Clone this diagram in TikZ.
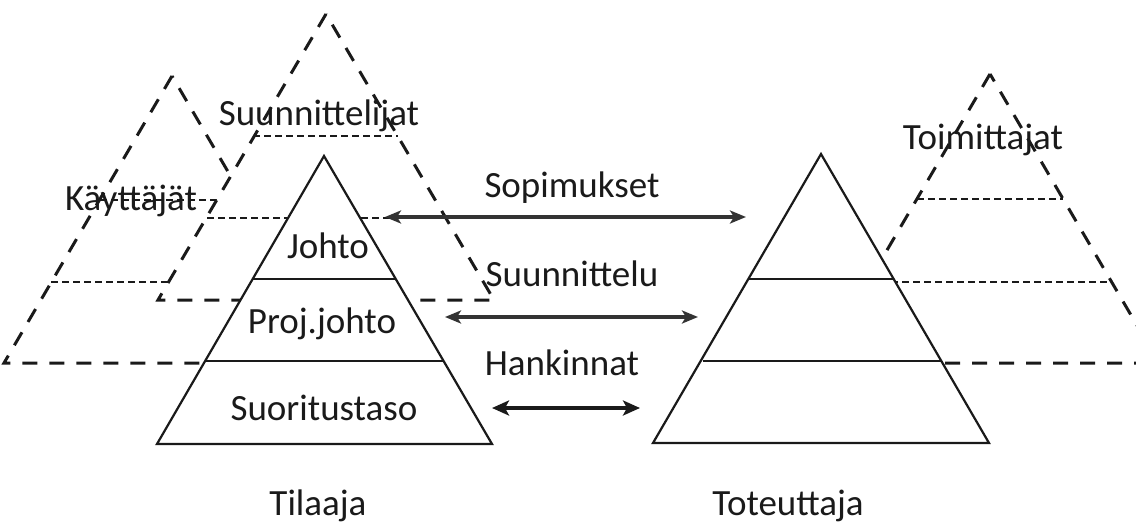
\documentclass[tikz,border=0pt]{standalone}
\usepackage{fontspec}
\setmainfont{Carlito}
\usetikzlibrary{arrows.meta}
\definecolor{ink}{HTML}{1A1A1A}
\definecolor{arrowc}{HTML}{333333}
\begin{document}
\begin{tikzpicture}[x=1pt,y=-1pt,
  solidtri/.style={draw=ink, line width=2.2pt, fill=white, line join=miter},
  levelline/.style={draw=ink, line width=1.5pt},
  dashtri/.style={draw=ink, line width=3pt, dash pattern=on 15pt off 12pt},
  dashtrifill/.style={dashtri, fill=white},
  thindash/.style={draw=ink, line width=1.5pt, dash pattern=on 7pt off 4pt},
  lbl/.style={font=\fontsize{37}{40}\selectfont, text=ink, inner sep=0pt, anchor=base},
  flow/.style={draw=arrowc, line width=3.2pt, {Stealth[length=16pt,width=13pt,inset=4pt]}-{Stealth[length=16pt,width=13pt,inset=4pt]}},
  flowbold/.style={draw=ink, line width=4.2pt, {Stealth[length=17pt,width=15pt,inset=4pt]}-{Stealth[length=17pt,width=15pt,inset=4pt]}},
]
\useasboundingbox (0,0) rectangle (1136,525);
\clip (0,0) rectangle (1136,525);

% ---- Kayttajat (back) ----
\coordinate (kA) at (172,76);
\coordinate (kL) at (4,363);
\coordinate (kR) at (340,363);
\draw[dashtri] (kA) -- (kL) -- (kR) -- cycle;
\coordinate (k1a) at (100,200); \coordinate (k1b) at (244,200);
\coordinate (k2a) at (51,282);  \coordinate (k2b) at (292,282);
\draw[thindash] (k1a) -- (k1b);
\draw[thindash] (k2a) -- (k2b);

% ---- Suunnittelijat ----
\coordinate (sA) at (326,14);
\coordinate (sL) at (158,300);
\coordinate (sR) at (494,300);
\draw[dashtrifill] (sA) -- (sL) -- (sR) -- cycle;
\coordinate (s1a) at (253,136); \coordinate (s1b) at (398,136);
\coordinate (s2a) at (207,218); \coordinate (s2b) at (445,218);
\draw[thindash] (s1a) -- (s1b);
\draw[thindash] (s2a) -- (s2b);

% ---- Toimittajat ----
\coordinate (tA) at (990,74);
\coordinate (tL) at (821,363);
\coordinate (tR) at (1159,363);
\draw[dashtri] (tA) -- (tL) -- (tR) -- cycle;
\coordinate (t1a) at (917,199); \coordinate (t1b) at (1063,199);
\coordinate (t2a) at (869,282); \coordinate (t2b) at (1111,282);
\draw[thindash] (t1a) -- (t1b);
\draw[thindash] (t2a) -- (t2b);

% ---- Tilaaja pyramid ----
\coordinate (pA) at (324,156);
\coordinate (pL) at (157,444);
\coordinate (pR) at (492,444);
\draw[solidtri] (pA) -- (pL) -- (pR) -- cycle;
\coordinate (p1a) at (253,279); \coordinate (p1b) at (396,279);
\coordinate (p2a) at (205,361); \coordinate (p2b) at (444,361);
\draw[levelline] (p1a) -- (p1b);
\draw[levelline] (p2a) -- (p2b);

% ---- Toteuttaja pyramid ----
\coordinate (qA) at (821,154);
\coordinate (qL) at (653,443);
\coordinate (qR) at (989,443);
\draw[solidtri] (qA) -- (qL) -- (qR) -- cycle;
\coordinate (q1a) at (749,279); \coordinate (q1b) at (894,279);
\coordinate (q2a) at (703,361); \coordinate (q2b) at (941,361);
\draw[levelline] (q1a) -- (q1b);
\draw[levelline] (q2a) -- (q2b);

% ---- arrows ----
\coordinate (a1l) at (385,217); \coordinate (a1r) at (746,217);
\coordinate (a2l) at (445,317); \coordinate (a2r) at (698,317);
\coordinate (a3l) at (492,408); \coordinate (a3r) at (640,408);
\draw[flow] (a1l) -- (a1r);
\draw[flow] (a2l) -- (a2r);
\draw[flowbold] (a3l) -- (a3r);

% ---- labels ----
\node[lbl] (lsuun) at (319,125) {Suunnittelijat};
\node[lbl] (lkayt) at (131,210) {Käyttäjät};
\node[lbl] (ltoim) at (983,149) {Toimittajat};
\node[lbl] (ljoh) at (328,258) {Johto};
\node[lbl] (lproj) at (322,333) {Proj.johto};
\node[lbl] (lsuor) at (324,420) {Suoritustaso};
\node[lbl] (lsop) at (572,197) {Sopimukset};
\node[lbl] (lsuu) at (572,286) {Suunnittelu};
\node[lbl] (lhan) at (562,375) {Hankinnat};
\node[lbl] (ltil) at (318,515) {Tilaaja};
\node[lbl] (ltot) at (788,515) {Toteuttaja};
\end{tikzpicture}
\end{document}
